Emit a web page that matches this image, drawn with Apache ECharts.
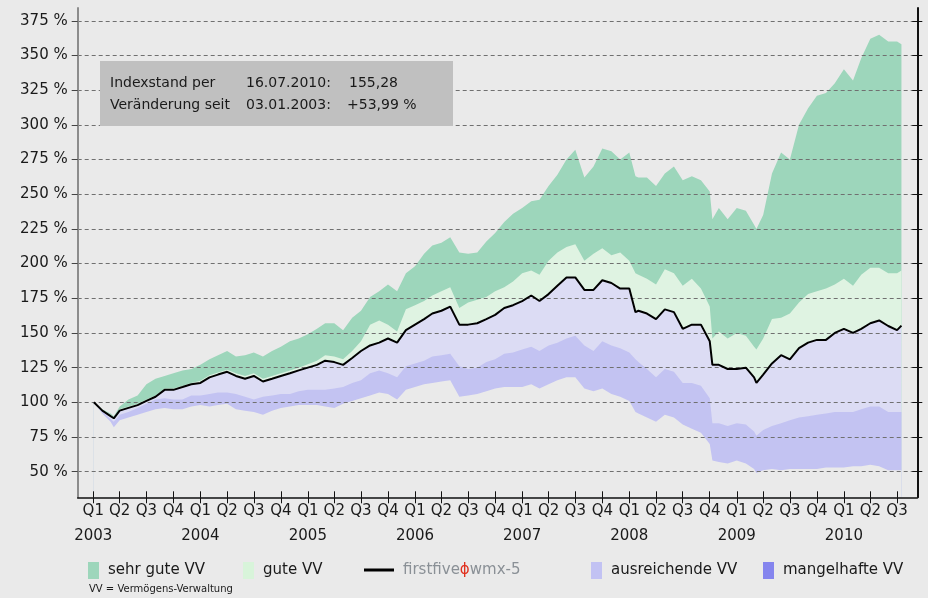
<!DOCTYPE html>
<html>
<head>
<meta charset="utf-8">
<script src="https://cdn.jsdelivr.net/npm/echarts@6.0.0/dist/echarts.min.js"></script>
<style>
  html, body { margin: 0; padding: 0; background: #eaeaea; }
  #chart { width: 928px; height: 598px; }
</style>
</head>
<body>
<div id="chart"></div>
<script>
var dates = [
  '2003-01-03','2003-02-01','2003-03-01','2003-03-12','2003-04-01','2003-05-01','2003-06-01','2003-07-01','2003-08-01','2003-09-01','2003-10-01','2003-11-01','2003-12-01',
  '2004-01-01','2004-02-01','2004-03-01','2004-04-01','2004-05-01','2004-06-01','2004-07-01','2004-08-01','2004-09-01','2004-10-01','2004-11-01','2004-12-01',
  '2005-01-01','2005-02-01','2005-03-01','2005-04-01','2005-05-01','2005-06-01','2005-07-01','2005-08-01','2005-09-01','2005-10-01','2005-11-01','2005-12-01',
  '2006-01-01','2006-02-01','2006-03-01','2006-04-01','2006-05-01','2006-06-01','2006-07-01','2006-08-01','2006-09-01','2006-10-01','2006-11-01','2006-12-01',
  '2007-01-01','2007-02-01','2007-03-01','2007-04-01','2007-05-01','2007-06-01','2007-07-01','2007-08-01','2007-09-01','2007-10-01','2007-11-01','2007-12-01',
  '2008-01-01','2008-01-22',
  '2008-02-01','2008-03-01','2008-04-01','2008-05-01','2008-06-01','2008-07-01','2008-08-01','2008-09-01','2008-10-01',
  '2008-10-10',
  '2008-11-01','2008-12-01','2009-01-01','2009-02-01','2009-03-01',
  '2009-03-09',
  '2009-04-01','2009-05-01','2009-06-01','2009-07-01','2009-08-01','2009-09-01','2009-10-01','2009-11-01','2009-12-01','2010-01-01','2010-02-01','2010-03-01','2010-04-01','2010-05-01','2010-06-01','2010-07-01',
  '2010-07-16'
];

// firstfive wmx-5 index, in %
var index = [
  100,94,90,88.5,94,96,98,101,104,109,109,111,113,
  114,118,120,122,119,117,119,115,117,119,121,123,
  125,127,130,129,127,132,137,141,143,146,143,152,
  156,160,164,166,169,156,156,157,160,163,168,170,
  173,177,173,178,184,190,190,181,181,188,186,182,
  182,165,
  166,164,160,167,165,153,156,156,144,
  127,
  127,124,124,125,118,
  114,
  120,128,134,131,139,143,145,145,150,153,150,153,157,159,155,152,
  155.28
];

// top edge of "sehr gute VV"
var sehrGut = [
  100,95,92,90,97,102,105,113,117,119,121,123,124,
  127,131,134,137,133,134,136,133,137,140,144,146,
  149,153,157,157,152,161,166,176,180,185,180,193,
  198,207,213,215,219,208,207,208,216,222,230,236,
  240,245,246,256,264,275,282,262,270,283,281,275,
  280,263,
  262,262,256,265,270,260,263,260,252,
  232,
  240,232,240,238,228,
  225,
  235,265,280,275,300,312,321,323,330,340,332,348,362,365,360,360,
  358
];

// top edge of "gute VV"
var gut = [
  100,95,91,89.5,95,97,99,102,105,110,110,112,114,
  115.5,119.5,121.5,123.5,121,119,121,117,119,121,123,125,
  127.5,130,134,133,131,137,144,156,159,156,151,167,
  170,173,177,180,183,168,172,174,176,180,183,187,
  193,195,192,202,208,212,214,202,207,211,206,208,
  202,193,
  192,189,185,196,193,184,189,182,169,
  146,
  151,146,150,148,140,
  138,
  146,160,161,164,172,178,180,182,185,189,184,192,197,197,193,193,
  195
];

// top edge of "ausreichende VV"
var ausreichend = [
  100,93,88,86,91,93,96,99,102,103,102,102,105,
  105,106,107,107,106,104,102,104,105,106,106,108,
  109,109,109,110,111,114,116,121,123,121,118,126,
  128,130,133,134,135,126,124,125,129,131,135,136,
  138,140,137,141,143,146,148,141,137,144,141,139,
  136,131,
  129,124,118,124,122,114,114,112,103,
  85,
  85,83,85,84,79,
  76,
  80,83,85,87,89,90,91,92,93,93,93,95,97,97,93,93,
  93
];

// lower edge of the range
var untergrenze = [
  100,92,86,82,87,89,91,93,95,96,95,95,97,
  98,97,98,99,95,94,93,91,94,96,97,98,
  98,98,97,96,99,101,103,105,107,106,102,109,
  111,113,114,115,116,104,105,106,108,110,111,111,
  111,113,110,113,116,118,118,110,108,110,106,104,
  101,93,
  92,89,86,91,89,84,81,78,70,
  58,
  57,56,58,56,52,
  49,
  51,52,51,52,52,52,52,53,53,53,54,54,55,54,51,51,
  51
];

var yTicks = [50, 75, 100, 125, 150, 175, 200, 225, 250, 275, 300, 325, 350, 375];
var tickYears = [2003, 2004, 2005, 2006, 2007, 2008, 2009, 2010];
var quarters = ['Q1', 'Q2', 'Q3', 'Q4'];

var xTicks = [];
var yearTicks = [];
tickYears.forEach(function (y) {
  yearTicks.push(Date.UTC(y, 0, 1));
  quarters.forEach(function (q, i) {
    if (y === 2010 && i > 2) return;
    xTicks.push(Date.UTC(y, i * 3, 1));
  });
});

function pairs(values) {
  return dates.map(function (d, i) { return [Date.parse(d), values[i]]; });
}

var xMin = Date.UTC(2002, 10, 9);
var xMax = Date.UTC(2010, 8, 8);
var yMin = 31.55, yMax = 384.2;

function band(name, values, color) {
  return {
    name: name, type: 'line', data: pairs(values), symbol: 'none',
    lineStyle: { width: 0 }, itemStyle: { color: color },
    areaStyle: { color: color, opacity: 1, origin: 'start' },
    silent: true, z: 1
  };
}

function legendAt(left, item, extra) {
  var l = {
    left: left, top: 562, padding: 0, itemWidth: 11, itemHeight: 17,
    selectedMode: false, data: [item],
    textStyle: { fontSize: 15, color: '#1a1a1a', fontFamily: 'DejaVu Sans', padding: [0, 0, 0, 4] }
  };
  for (var k in extra) l[k] = extra[k];
  return l;
}

var chart = echarts.init(document.getElementById('chart'));

chart.setOption({
  backgroundColor: '#eaeaea',
  animation: false,
  textStyle: { fontFamily: 'DejaVu Sans' },
  grid: { left: 77.7, right: 10.7, top: 8, bottom: 100.7 },
  xAxis: [
    {
      type: 'value', min: xMin, max: xMax, z: 5,
      axisLine: { show: true, onZero: false, lineStyle: { color: '#111', width: 1.5 } },
      axisTick: { show: true, length: 6, customValues: xTicks, lineStyle: { color: '#111' } },
      axisLabel: {
        customValues: xTicks, margin: 6, fontSize: 15, color: '#1a1a1a',
        showMinLabel: true, showMaxLabel: true,
        formatter: function (v) {
          return quarters[Math.floor(new Date(v).getUTCMonth() / 3)];
        }
      },
      splitLine: { show: false }
    },
    {
      type: 'value', min: xMin, max: xMax, position: 'bottom', z: 5,
      axisLine: { show: false },
      axisTick: { show: true, inside: true, length: 6, customValues: xTicks, lineStyle: { color: '#111' } },
      axisLabel: {
        customValues: yearTicks, margin: 31, fontSize: 15, color: '#1a1a1a',
        showMinLabel: true, showMaxLabel: true,
        formatter: function (v) { return String(new Date(v).getUTCFullYear()); }
      },
      splitLine: { show: false }
    }
  ],
  yAxis: [
    {
      type: 'value', min: yMin, max: yMax, z: 5,
      axisLine: { show: true, onZero: false, lineStyle: { color: '#8c8c8c', width: 2 } },
      axisTick: { show: true, length: 6, customValues: yTicks, lineStyle: { color: '#444' } },
      axisLabel: {
        customValues: yTicks, margin: 10, fontSize: 15, color: '#1a1a1a',
        formatter: function (v) { return v + ' %'; }
      },
      splitLine: { show: true, lineStyle: { color: '#707070', width: 1, type: [4, 3] } }
    },
    {
      type: 'value', min: yMin, max: yMax, position: 'right', z: 5,
      axisLine: { show: true, onZero: false, lineStyle: { color: '#111', width: 2 } },
      axisTick: { show: true, length: 5, customValues: yTicks, lineStyle: { color: '#111' } },
      axisLabel: { show: false },
      splitLine: { show: false }
    },
    {
      type: 'value', min: yMin, max: yMax, position: 'right', z: 5,
      axisLine: { show: false },
      axisTick: { show: true, inside: true, length: 5, customValues: yTicks, lineStyle: { color: '#111' } },
      axisLabel: { show: false },
      splitLine: { show: false }
    }
  ],
  legend: [
    legendAt(88, { name: 'sehr gute VV', icon: 'rect', itemStyle: { color: '#9dd6bb' } }),
    legendAt(243, { name: 'gute VV', icon: 'rect', itemStyle: { color: '#d8f4da' } }),
    legendAt(364, { name: 'firstfive wmx-5', icon: 'rect', itemStyle: { color: '#000' } }, {
      itemWidth: 30, itemHeight: 3,
      formatter: function () { return '{a|firstfive}{b|ϕ}{a|wmx-5}'; },
      textStyle: {
        fontSize: 15, fontFamily: 'DejaVu Sans', padding: [0, 0, 0, 4],
        rich: {
          a: { fontSize: 15, lineHeight: 17, color: '#8a9096', fontFamily: 'DejaVu Sans', padding: [1, 0, 0, 0] },
          b: { fontSize: 15, lineHeight: 17, color: '#e0301e', fontFamily: 'DejaVu Sans', padding: [1, 0, 0, 0] }
        }
      }
    }),
    legendAt(591, { name: 'ausreichende VV', icon: 'rect', itemStyle: { color: '#c2c2f3' } }),
    legendAt(763, { name: 'mangelhafte VV', icon: 'rect', itemStyle: { color: '#8585ee' } })
  ],
  graphic: [
    { type: 'rect', left: 100, top: 61, z: 10, shape: { width: 353, height: 65 }, style: { fill: '#c0c0c0' } },
    { type: 'text', left: 110, top: 76, z: 11, style: { text: 'Indexstand per', fontSize: 14, fontFamily: 'DejaVu Sans', fill: '#1a1a1a' } },
    { type: 'text', left: 246, top: 76, z: 11, style: { text: '16.07.2010:', fontSize: 14, fontFamily: 'DejaVu Sans', fill: '#1a1a1a' } },
    { type: 'text', left: 349, top: 76, z: 11, style: { text: '155,28', fontSize: 14, fontFamily: 'DejaVu Sans', fill: '#1a1a1a' } },
    { type: 'text', left: 110, top: 98, z: 11, style: { text: 'Veränderung seit', fontSize: 14, fontFamily: 'DejaVu Sans', fill: '#1a1a1a' } },
    { type: 'text', left: 246, top: 98, z: 11, style: { text: '03.01.2003:', fontSize: 14, fontFamily: 'DejaVu Sans', fill: '#1a1a1a' } },
    { type: 'text', left: 347, top: 98, z: 11, style: { text: '+53,99 %', fontSize: 14, fontFamily: 'DejaVu Sans', fill: '#1a1a1a' } },
    { type: 'text', left: 89, top: 584, z: 11, style: { text: 'VV = Vermögens-Verwaltung', fontSize: 10, fontFamily: 'DejaVu Sans', fill: '#1a1a1a' } }
  ],
  series: [
    band('sehr gute VV', sehrGut, '#9dd6bb'),
    band('gute VV', gut, '#dff3e2'),
    band('Mittelfeld', index, '#dcdcf4'),
    band('ausreichende VV', ausreichend, '#c3c3f2'),
    band('Untergrenze', untergrenze, '#eaeaea'),
    {
      name: 'firstfive wmx-5', type: 'line', data: pairs(index), symbol: 'none',
      lineStyle: { color: '#000', width: 2 }, itemStyle: { color: '#000' }, z: 8, silent: true
    },
    { name: 'mangelhafte VV', type: 'line', data: [], itemStyle: { color: '#8585ee' } }
  ]
});
</script>
</body>
</html>
